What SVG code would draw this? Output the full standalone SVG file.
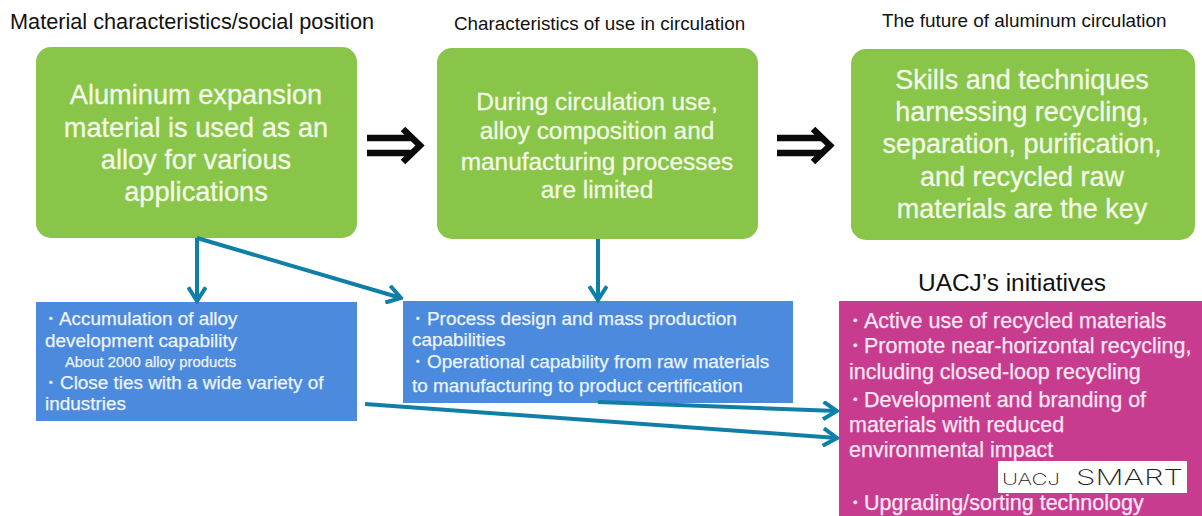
<svg xmlns="http://www.w3.org/2000/svg" width="1202" height="516" viewBox="0 0 1202 516">
<defs>
<style>
text{font-family:"Liberation Sans",Arial,sans-serif}
.green{fill:#88c548}
.blue{fill:#4c8ade}
.mag{fill:#c83c90}
.h{fill:#111}
.g{fill:#f4fae8;text-anchor:middle;stroke:#f4fae8;stroke-width:.3}
.g1{font-size:27.2px}
.g2{font-size:24.4px}
.g3{font-size:27px}
.b{fill:#eef4fc;stroke:#eef4fc;stroke-width:.25;font-size:18.9px}
.s{font-size:14.8px}
.m{fill:#fbe8f4;stroke:#fbe8f4;stroke-width:.25;font-size:21.5px}
.con{fill:none;stroke:#0f7fa8;stroke-width:4}
.dbl{fill:none;stroke:#0a0a0a;stroke-width:6.5}
.logo{font-family:Inter,sans-serif;font-weight:200;fill:#222}
</style>
<marker id="ah" viewBox="0 0 16 16" refX="14" refY="8" markerWidth="20" markerHeight="20" markerUnits="userSpaceOnUse" orient="auto"><path d="M3 1 L14 8 L3 15" fill="none" stroke="#0f7fa8" stroke-width="3.2"/></marker>
</defs>
<rect width="1202" height="516" fill="#fff"/>

<g id="heading-1"><text class="h" x="10" y="29" font-size="21.7">Material characteristics/social position</text></g>
<g id="heading-2"><text class="h" x="454" y="30" font-size="18.85">Characteristics of use in circulation</text></g>
<g id="heading-3"><text class="h" x="882" y="27" font-size="18.9">The future of aluminum circulation</text></g>

<g id="node-material">
<rect class="green" x="36" y="47" width="321" height="191" rx="15"/>
<text class="g g1" x="196" y="104">Aluminum expansion</text>
<text class="g g1" x="196" y="137">material is used as an</text>
<text class="g g1" x="196" y="169">alloy for various</text>
<text class="g g1" x="196" y="201">applications</text>
</g>
<g id="node-use">
<rect class="green" x="437" y="48" width="321" height="191" rx="15"/>
<text class="g g2" x="597" y="110">During circulation use,</text>
<text class="g g2" x="597" y="139">alloy composition and</text>
<text class="g g2" x="597" y="170">manufacturing processes</text>
<text class="g g2" x="597" y="198">are limited</text>
</g>
<g id="node-future">
<rect class="green" x="851" y="49" width="344" height="191" rx="15"/>
<text class="g g3" x="1022" y="89">Skills and techniques</text>
<text class="g g3" x="1022" y="121">harnessing recycling,</text>
<text class="g g3" x="1022" y="153">separation, purification,</text>
<text class="g g3" x="1022" y="186">and recycled raw</text>
<text class="g g3" x="1022" y="218">materials are the key</text>
</g>

<g id="node-alloy">
<rect class="blue" x="36" y="302" width="321" height="119"/>
<text class="b" x="41" y="325">・<tspan x="59">Accumulation of alloy</tspan></text>
<text class="b" x="45" y="347">development capability</text>
<text class="b s" x="65" y="367">About 2000 alloy products</text>
<text class="b" x="41" y="389">・<tspan x="60">Close ties with a wide variety of</tspan></text>
<text class="b" x="45" y="410">industries</text>
</g>
<g id="node-process">
<rect class="blue" x="403" y="301" width="390" height="102"/>
<text class="b" x="408" y="325">・<tspan x="427">Process design and mass production</tspan></text>
<text class="b" x="412" y="346">capabilities</text>
<text class="b" x="408" y="368">・<tspan x="427">Operational capability from raw materials</tspan></text>
<text class="b" x="412" y="392">to manufacturing to product certification</text>
</g>
<g id="node-initiatives">
<text class="h" x="1012" y="291" font-size="24.4" text-anchor="middle">UACJ’s initiatives</text>
<rect class="mag" x="839" y="301" width="363" height="215"/>
<text class="m" x="844" y="328">・<tspan x="864">Active use of recycled materials</tspan></text>
<text class="m" x="844" y="353">・<tspan x="864">Promote near-horizontal recycling,</tspan></text>
<text class="m" x="849" y="379">including closed-loop recycling</text>
<text class="m" x="844" y="407">・<tspan x="864">Development and branding of</tspan></text>
<text class="m" x="849" y="432">materials with reduced</text>
<text class="m" x="849" y="457">environmental impact</text>
<text class="m" x="844" y="510">・<tspan x="864">Upgrading/sorting technology</tspan></text>
<rect x="998" y="461" width="189" height="32" fill="#fff"/>
<text class="logo" x="1002" y="485" font-size="15.500" textLength="58" lengthAdjust="spacingAndGlyphs">UACJ</text>
<text class="logo" x="1076" y="485" font-size="21" textLength="107" lengthAdjust="spacingAndGlyphs">SMART</text>
</g>

<g id="connectors">
<path class="con" marker-end="url(#ah)" d="M197 238V301"/>
<path class="con" marker-end="url(#ah)" d="M197 238L401 298"/>
<path class="con" marker-end="url(#ah)" d="M598 239V300"/>
<path class="con" marker-end="url(#ah)" d="M598 402L837 411"/>
<path class="con" marker-end="url(#ah)" d="M365 404L837 438"/>
<g id="arrow-1"><path class="dbl" d="M367 138H412M367 153H412"/><path class="dbl" d="M403 129L420 145.500L403 162" stroke-width="7"/></g>
<g id="arrow-2"><path class="dbl" d="M777 138H822M777 153H822"/><path class="dbl" d="M813 129L830 145.500L813 162" stroke-width="7"/></g>
</g>
</svg>
